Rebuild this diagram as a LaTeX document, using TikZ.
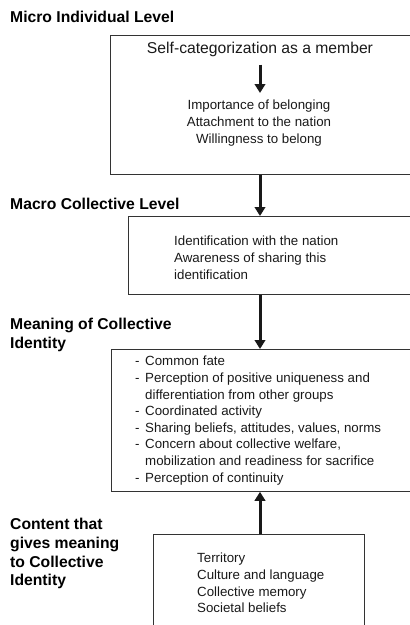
\documentclass[tikz,border=0pt]{standalone}
\usepackage{fontspec}
\setmainfont{Liberation Sans}
\usetikzlibrary{arrows.meta}

\newcommand{\litem}{\makebox[10pt][l]{-}}
\newcommand{\lcont}{\hspace*{10pt}}

\begin{document}
\begin{tikzpicture}[x=1pt,y=-1pt]
	\tikzstyle{box}=[draw=black!80,line width=0.8pt,inner sep=0pt,anchor=north west]
	\tikzstyle{head}=[font=\fontsize{15.7}{18.8}\selectfont\bfseries,align=left,anchor=north west,inner sep=0pt]
	\tikzstyle{body}=[font=\fontsize{13.3}{16.6}\selectfont,inner sep=0pt,text=black!90]
	\tikzstyle{arr}=[-{Triangle[length=9pt,width=10.5pt]},line width=3pt,black!90]

	\useasboundingbox (0,0) rectangle (410,625);

	% level headings
	\node[head] (tmicro) at (10,11) {Micro Individual Level};
	\node[head] (tmacro) at (10,198) {Macro Collective Level};
	\node[head] (tmeaning) at (10,318) {Meaning of Collective\\Identity};
	\node[head] (tcontent) at (10,518) {Content that\\gives meaning\\to Collective\\Identity};

	% boxes
	\node[box,minimum width=299.5pt,minimum height=139pt] (micro) at (110,35) {};
	\node[box,minimum width=281.5pt,minimum height=78pt] (macro) at (128,216) {};
	\node[box,minimum width=298.5pt,minimum height=142pt] (meaning) at (111,349) {};
	\node[box,minimum width=211pt,minimum height=100pt] (content) at (153,534) {};

	% box contents
	\node[body,font=\fontsize{15.7}{18}\selectfont] (selfcat) at (260,49) {Self-categorization as a member};
	\node[body,align=center,anchor=north] (belong) at (259,100) {Importance of belonging\\Attachment to the nation\\Willingness to belong};
	\node[body,align=left,anchor=north west] (ident) at (174,236) {Identification with the nation\\Awareness of sharing this\\identification};
	\node[body,align=left,anchor=north west] (meanlist) at (135,356) {\litem Common fate\\
		\litem Perception of positive uniqueness and\\
		\lcont differentiation from other groups\\
		\litem Coordinated activity\\
		\litem Sharing beliefs, attitudes, values, norms\\
		\litem Concern about collective welfare,\\
		\lcont mobilization and readiness for sacrifice\\
		\litem Perception of continuity};
	\node[body,align=left,anchor=north west] (contlist) at (197,553) {Territory\\Culture and language\\Collective memory\\Societal beliefs};

	% arrows
	\draw[arr,shorten <=8pt,shorten >=7pt] (selfcat.south) -- (selfcat.south |- belong.north);
	\draw[arr] (micro.south -| selfcat) -- (macro.north -| selfcat);
	\draw[arr] (macro.south -| selfcat) -- (meaning.north -| selfcat);
	\draw[arr] (content.north -| selfcat) -- (meaning.south -| selfcat);
\end{tikzpicture}
\end{document}
